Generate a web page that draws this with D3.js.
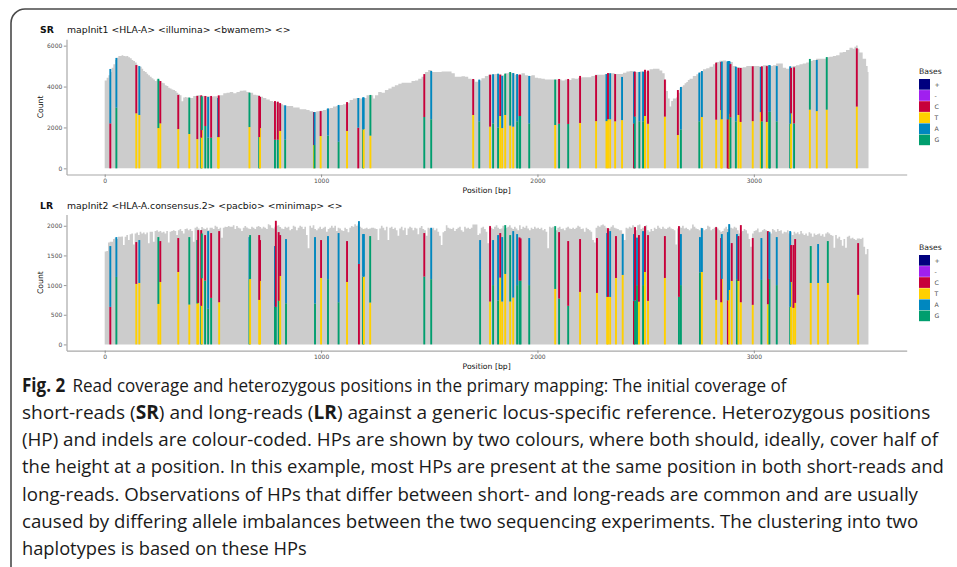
<!DOCTYPE html>
<html>
<head>
<meta charset="utf-8">
<script src="https://cdn.jsdelivr.net/npm/d3@7"></script>
<style>
  body { margin: 0; background: #fff; }
  svg { display: block; }
</style>
</head>
<body>
<svg id="fig" width="957" height="567"></svg>
<script>
// ---------------- data ----------------
const xTicks = [0, 1000, 2000, 3000];
const srYTicks = [0, 2000, 4000, 6000];
const lrYTicks = [0, 500, 1000, 1500, 2000];
const bases = ["+", "-", "C", "T", "A", "G"];

// short-read coverage: bin start position (bp) and read count
const srPos = [0,9,17,25,32,40,48,55,63,71,78,86,94,102,109,117,125,132,140,148,155,163,171,178,186,194,201,209,217,225,232,240,248,255,263,271,278,286,294,301,309,317,325,332,340,348,355,363,371,378,394,409,424,440,455,471,486,501,517,532,548,563,578,594,609,624,640,655,671,686,701,717,732,747,763,778,794,809,824,840,855,871,886,901,917,932,947,963,978,994,1009,1024,1040,1055,1070,1086,1101,1117,1132,1147,1163,1180,1195,1210,1226,1241,1249,1264,1280,1295,1311,1326,1341,1357,1372,1387,1403,1418,1434,1449,1464,1480,1495,1511,1526,1541,1557,1572,1588,1603,1618,1634,1649,1665,1680,1695,1711,1726,1741,1757,1772,1788,1803,1818,1834,1849,1865,1880,1895,1911,1926,1942,1957,1972,1988,2003,2018,2034,2049,2065,2080,2095,2111,2126,2142,2157,2172,2188,2203,2219,2234,2249,2265,2280,2295,2311,2326,2342,2357,2372,2395,2411,2426,2441,2457,2472,2488,2503,2518,2534,2549,2564,2577,2588,2595,2603,2611,2618,2626,2634,2641,2649,2657,2665,2672,2680,2688,2695,2703,2718,2734,2749,2765,2780,2795,2811,2826,2841,2857,2872,2888,2903,2918,2934,2949,2965,2980,2995,3011,3026,3042,3057,3072,3088,3103,3119,3134,3149,3165,3180,3195,3211,3226,3242,3257,3272,3288,3303,3319,3334,3349,3365,3380,3396,3411,3426,3442,3457,3465,3472,3480,3488,3503,3519,3526,3530];
const srCov = [4300,4430,4550,4710,4920,5090,5300,5410,5490,5490,5530,5490,5480,5490,5430,5380,5300,5250,5170,5070,5000,4970,4870,4760,4710,4630,4550,4480,4400,4350,4270,4350,4320,4270,4190,4160,4060,4030,3940,3900,3860,3830,3780,3700,3620,3570,3280,3460,3490,3460,3440,3540,3570,3550,3540,3520,3500,3520,3520,3570,3670,3700,3730,3670,3730,3800,3810,3730,3700,3600,3570,3500,3440,3370,3290,3240,3210,3130,3080,3050,3050,2980,2970,2890,2890,2850,2790,2750,2790,2820,2850,2920,2950,3020,3050,3100,3130,3210,3340,3410,3440,3410,3440,3570,3570,3410,3570,3730,3700,3830,3900,3990,4060,4140,4190,4190,4190,4270,4300,4380,4480,4710,4810,4710,4710,4710,4730,4740,4740,4650,4480,4480,4500,4480,4380,4350,4240,4290,4400,4520,4580,4600,4610,4600,4550,4650,4680,4650,4580,4550,4650,4550,4520,4550,4430,4400,4380,4350,4350,4350,4350,4350,4300,4350,4320,4400,4380,4430,4450,4450,4450,4520,4580,4580,4580,4610,4650,4650,4610,4610,4680,4730,4760,4710,4710,4740,4710,4740,4840,4870,4870,4790,4650,4350,3780,3410,3020,3290,3410,3410,3460,3700,3900,3990,4060,4160,4220,4320,4380,4520,4600,4710,4840,4890,4970,5090,5200,5260,5280,5220,5200,5000,4960,4920,4940,5000,5000,5000,5000,4970,5040,5040,5000,5040,5130,5130,4920,4870,4970,5000,5040,5090,5130,5170,5250,5300,5360,5360,5360,5430,5460,5490,5530,5660,5690,5790,5900,5850,5950,6010,5850,5660,5360,5000,4710,4710];

// short-read heterozygous positions: position, lower base and its count, upper base and total height
const srHpPos = [26,54,146,160,248,257,340,391,428,446,449,465,478,492,524,527,669,714,718,787,800,811,834,967,970,998,1032,1081,1120,1172,1194,1197,1228,1477,1509,1703,1731,1781,1795,1818,1828,1837,1851,1874,1888,1906,1917,1920,1962,2082,2100,2142,2197,2271,2319,2326,2336,2359,2391,2446,2450,2471,2488,2497,2511,2589,2649,2663,2748,2760,2826,2849,2852,2879,2882,2885,2888,2892,2917,2929,2939,2995,3032,3037,3060,3071,3074,3106,3168,3172,3186,3259,3291,3337,3476];
const srHpLoBase = "C G T T T T T T T G T G G G T T T G T G G T G T G T G G T C G T T G G T G T G G T T T T T G G G G T G G T T T T T T T C G G G T T T T G G T T T T C C C T G G T T T T G T G G G G T G T T T T".split(" ");
const srHpLo = [2200,2970,2690,2610,1970,2200,1920,1680,1430,1500,1870,2070,1500,1500,1530,1530,2020,1530,1970,1400,1400,1830,1400,1140,1140,1580,1600,1300,1830,1990,1900,1920,1600,2510,2400,2610,2300,2040,2200,1990,2560,1970,2610,2090,2040,2300,2560,2560,2200,2120,2180,2170,2220,2310,2310,2400,2400,2300,2360,2200,2530,2300,2300,2560,2180,2530,1630,1900,2300,2510,2380,2850,2400,2400,2400,2670,2850,2500,2300,2610,2270,2310,2750,2300,2270,2770,2770,2300,2180,2690,2200,2870,2800,2870,3020];
const srHpHiBase = "A A C A G C C G C C G C A C A C G C C C C C A C A C A A C A A A G C A C A C A A C A G G A A C C A G C C C C A C A C A A C A A C C C C A A A C C A A A A A C A C C C A C C A A A A C C G A G C".split(" ");
const srHpTop = [4860,5400,5050,5000,4380,4270,3590,3460,3540,3570,3520,3540,3490,3540,3440,3570,3700,3540,3490,3290,3260,3190,3080,2750,2750,2800,2930,3100,3240,3440,3470,3470,3590,4610,4760,4370,4340,4580,4600,4630,4580,4520,4630,4710,4660,4610,4580,4580,4520,4340,4370,4370,4520,4560,4610,4660,4650,4610,4470,4730,4730,4710,4730,4820,4780,4340,3830,3980,4680,4760,5170,5200,5220,5230,5230,5250,5230,5100,4970,4910,4910,4990,4960,4990,5000,5040,5040,5000,4990,4910,4940,5350,5300,5440,5870];

// long-read coverage in bins of lrBinWidth bp, starting at position 0
const lrBinWidth = 7.69;
const lrCov = [
  1565,1575,1720,1730,1730,1775,1800,1775,1815,1815,1820,1675,1815,1845,1760,1855,1870,1685,1870,1885,
  1845,1900,1870,1885,1855,1885,1705,1900,1900,1730,1910,1925,1900,1910,1885,1900,1870,1910,1720,1900,
  1910,1925,1910,1845,1925,1945,1910,1870,1945,1955,1925,1945,1910,1730,1965,1985,1955,1925,1980,1955,
  1945,1965,1925,1965,1965,1945,2000,1985,1945,1965,1800,1965,1985,1980,1995,1985,1985,2010,1945,1995,
  1965,1955,1910,1965,1995,1970,1955,1945,1985,1965,1945,1985,1995,1980,1955,1985,1965,1945,2025,2010,
  1965,1955,1985,2000,2010,1980,1955,1945,1985,1965,1985,1925,1945,2000,1985,1925,1965,2000,1985,1945,
  1985,1845,1620,2000,1965,2010,1945,1925,1955,1985,1945,1965,1985,1900,1945,1965,2000,1965,2000,1910,
  1965,1955,1925,1910,1965,1945,1890,1965,1995,1985,2025,2000,2025,1985,
  1965,1945,1955,1965,1945,1955,1965,1965,1955,1945,1760,1955,2000,1965,1925,1985,1760,1965,1985,1945,
  1965,1925,1830,1955,1985,1925,1965,1845,1955,1985,1965,1925,1965,1955,1855,1965,1995,1945,1925,1830,
  1965,1955,1945,1965,1925,1955,1900,1830,1675,1890,1910,2010,1965,1955,1945,1965,1910,1945,1965,1985,
  1925,1900,1985,1955,1965,1945,1965,2020,2020,2020,1845,1870,1965,1985,1945,1900,1705,2000,1965,1945,
  1985,2010,1965,1945,1955,2000,1955,1965,1985,2010,1965,1945,1985,1955,1925,2010,1945,1985,1965,2000,
  1955,1925,1965,1945,1985,1955,1965,1945,1965,1925,1945,1900,1620,1985,1965,1985,1955,1925,1965,1985,
  1945,1955,1925,1965,1985,1955,1945,1965,1945,1965,2000,1985,1945,1955,1900,1965,1945,1925,1900,1760,
  1720,1965,2000,1985,2010,2020,2000,1965,1925,1955,1985,2010,1965,1955,1945,1925,
  1925,1870,1760,1965,1955,1985,1965,2010,1985,1925,2010,2020,1945,1965,1985,2010,1925,1900,1945,1910,
  1965,1945,2000,1965,1945,1985,1955,1945,1965,1985,1955,1945,1925,1685,1955,1985,1965,2000,1955,1965,
  1945,1925,1955,2020,1985,1955,1945,1925,1965,1955,1925,1945,2000,1985,1925,1945,1965,1985,1955,1925,
  1900,1910,1955,1985,1945,2010,1965,1955,1985,1965,1925,1870,1900,1910,1945,1925,1870,1775,1645,1870,
  1910,1925,1955,1890,1900,1925,1945,1925,1900,1910,1870,1945,1925,1900,1945,1910,1925,1870,1900,1890,
  1925,1870,1890,1845,1900,1870,1890,1855,1910,1870,1845,1870,1830,1890,1870,1815,1870,1845,1855,1870,
  1830,1855,1815,1870,1890,1870,1845,1830,1630,1845,1785,1815,1760,1665,1775,1630,1815,1830,1785,1800,
  1775,1760,1785,1785,1775,1800,1645,1520,1610
];

// long-read heterozygous positions
const lrHpPos = [26,54,146,160,248,257,340,391,428,432,446,449,464,478,492,529,669,672,714,718,787,791,804,811,838,972,1000,1032,1081,1120,1175,1194,1198,1227,1477,1509,1735,1781,1795,1818,1828,1837,1851,1874,1888,1906,1917,1922,1962,2082,2100,2142,2197,2275,2322,2326,2336,2363,2394,2446,2451,2460,2469,2488,2497,2511,2589,2654,2663,2751,2760,2826,2849,2852,2880,2886,2898,2922,2929,2940,2995,3035,3065,3072,3106,3168,3172,3183,3191,3263,3297,3342,3482];
const lrHpLoBase = "C G T T T T T T T T G T G G G T G T T T G G G T G G T G G T C G T T G G G T G G T T T T T G G G G T G G T T T T T T T C G G T G T T T G G G T T T T C T T G T T T G T G G G T T T T T T T".split(" ");
const lrHpLo = [633,1137,1020,1036,683,1053,1221,672,690,700,650,1115,1076,600,784,711,1100,1104,750,1070,633,633,734,1154,694,690,1120,1100,711,1053,1356,1143,1143,706,1143,1100,1255,723,1000,740,1126,723,1188,723,790,1000,1076,1076,1000,935,773,650,885,868,801,801,800,1120,1171,734,740,1000,720,1000,1221,734,1120,801,1000,1215,1221,750,711,1104,745,918,1070,1100,1070,711,667,1087,678,1104,1000,633,1053,616,700,1036,1036,1036,835];
const lrHpHiBase = "A A C A G C C G G C C G C A C C A G C C A C C C A A C A A C A A A G C A A C A A C A G G A A C C A G C C C C A C A C A A C A C A C C C C A A A C C A A A C A C C C A C A A A C C C G A G C".split(" ");
const lrHpTop = [1658,1809,1725,1759,1809,1742,1793,1809,1760,1927,1927,1870,1843,1910,1877,1910,1809,1843,1843,1759,1658,2084,1893,1843,1776,1809,1759,1826,1877,1742,2078,1860,1860,1826,1877,1966,1759,1994,1759,1843,1877,1809,2011,1843,1910,1860,1804,1787,1793,1994,1893,1742,1776,1793,1877,1960,1910,1826,1860,1860,1977,1800,1843,1910,1994,1843,1826,1994,1860,1809,1960,1977,1793,1860,1893,2028,1708,1860,1826,2011,1793,1793,1910,1893,1809,1910,1675,1675,1776,1658,1692,1742,1708];

const captionLines = [
  [["Fig. 2", true], ["Read coverage and heterozygous positions in the primary mapping: The initial coverage of", false]],
  [["short-reads (", false], ["SR", true], [") and long-reads (", false], ["LR", true], [") against a generic locus-specific reference. Heterozygous positions", false]],
  [["(HP) and indels are colour-coded. HPs are shown by two colours, where both should, ideally, cover half of", false]],
  [["the height at a position. In this example, most HPs are present at the same position in both short-reads and", false]],
  [["long-reads. Observations of HPs that differ between short- and long-reads are common and are usually", false]],
  [["caused by differing allele imbalances between the two sequencing experiments. The clustering into two", false]],
  [["haplotypes is based on these HPs", false]]
];

// ---------------- style ----------------
const FONT = "'DejaVu Sans', Verdana, sans-serif";
const CAP_FONT = "'Open Sans', 'Noto Sans', sans-serif";
const palette = ["#00007F", "#A020EF", "#C7003A", "#FFD000", "#0087BF", "#009E6E"];
const GREY_FILL = "#CCCCCC";
const AXIS_COL = "#A8A8A8";
const TICK_TXT = "#4D4D4D";
const colour = d3.scaleOrdinal(bases, palette);

const svg = d3.select("#fig");

// figure frame with rounded top-left corner
svg.append("path")
  .attr("d", "M11,567 V23 A14,14 0 0 1 25,9 H957")
  .attr("fill", "none").attr("stroke", "#4a4a4a").attr("stroke-width", 1.6);

// ggplot-style 5% expansion of a data extent
function expand(ext) {
  const pad = (ext[1] - ext[0]) * 0.05;
  return [ext[0] - pad, ext[1] + pad];
}
const X_LEFT = 66.5, X_RIGHT = 906.7;
const fmt = d3.format("d");

function panel(opt) {
  const g = svg.append("g");
  const x = d3.scaleLinear().domain(expand(opt.xExtent)).range([X_LEFT, X_RIGHT]);
  const yMax = d3.max([d3.max(opt.cov, d => d[1]), d3.max(opt.hpTop)]);
  const y = d3.scaleLinear().domain(expand([0, yMax])).range([opt.yBottom, opt.yTop]);

  // coverage profile
  const area = d3.area()
    .curve(d3.curveStepAfter)
    .x(d => x(d[0]))
    .y0(y(0))
    .y1(d => y(d[1]));
  g.append("path").datum(opt.cov).attr("d", area).attr("fill", GREY_FILL);

  // heterozygous positions: two stacked bases per position
  const hp = opt.hpPos.map((p, i) => ({
    pos: p, loBase: opt.hpLoBase[i], lo: opt.hpLo[i], hiBase: opt.hpHiBase[i], top: opt.hpTop[i]
  }));
  const bw = 1.9;
  const hg = g.append("g");
  hg.selectAll("rect.lo").data(hp).join("rect")
    .attr("class", "lo")
    .attr("x", d => x(d.pos) - bw / 2).attr("width", bw)
    .attr("y", d => y(d.lo)).attr("height", d => y(0) - y(d.lo))
    .attr("fill", d => colour(d.loBase));
  hg.selectAll("rect.hi").data(hp).join("rect")
    .attr("class", "hi")
    .attr("x", d => x(d.pos) - bw / 2).attr("width", bw)
    .attr("y", d => y(d.top)).attr("height", d => y(d.lo) - y(d.top))
    .attr("fill", d => colour(d.hiBase));

  // axes
  const yAxis = g.append("g").attr("transform", `translate(${X_LEFT},0)`)
    .call(d3.axisLeft(y).tickValues(opt.yTicks).tickFormat(fmt)
      .tickSize(2.7).tickSizeOuter(0).tickPadding(1.5));
  const xAxis = g.append("g").attr("transform", `translate(0,${opt.yBottom})`)
    .call(d3.axisBottom(x).tickValues(xTicks).tickFormat(fmt)
      .tickSize(2.7).tickSizeOuter(0).tickPadding(1.8));
  [yAxis, xAxis].forEach(a => {
    a.select(".domain").attr("stroke", AXIS_COL).attr("stroke-width", 1.2);
    a.selectAll(".tick line").attr("stroke", "#8a8a8a").attr("stroke-width", 0.9);
    a.selectAll(".tick text").attr("fill", TICK_TXT).attr("font-family", FONT).attr("font-size", 6);
  });

  // titles
  g.append("text").attr("x", 40).attr("y", opt.titleY)
    .attr("font-family", FONT).attr("font-size", 9.3).attr("font-weight", "bold").attr("fill", "#111")
    .text(opt.tag);
  g.append("text").attr("x", 67).attr("y", opt.titleY)
    .attr("font-family", FONT).attr("font-size", 9.3).attr("fill", "#111")
    .text(opt.title);
  g.append("text")
    .attr("transform", `translate(43,${(opt.yBottom + opt.yTop) / 2}) rotate(-90)`)
    .attr("text-anchor", "middle")
    .attr("font-family", FONT).attr("font-size", 7.7).attr("fill", "#111")
    .text("Count");
  g.append("text").attr("x", (X_LEFT + X_RIGHT) / 2).attr("y", opt.yBottom + 18)
    .attr("text-anchor", "middle")
    .attr("font-family", FONT).attr("font-size", 7.7).attr("fill", "#111")
    .text("Position [bp]");

  // legend
  const lg = g.append("g").attr("transform", `translate(919,${opt.legendTop})`);
  lg.append("text").attr("x", 0).attr("y", -5)
    .attr("font-family", FONT).attr("font-size", 7.7).attr("fill", "#222").text("Bases");
  const key = 11.1;
  const items = lg.selectAll("g.item").data(bases).join("g")
    .attr("class", "item").attr("transform", (d, i) => `translate(0,${i * key})`);
  items.append("rect").attr("width", 11).attr("height", key - 0.4)
    .attr("fill", d => colour(d));
  items.append("text").attr("x", 15.5).attr("y", key / 2 + 2.2)
    .attr("font-family", FONT).attr("font-size", 6.2).attr("fill", TICK_TXT)
    .text(d => d);
}

const srCovPts = srPos.map((p, i) => [p, srCov[i]]);
const lrCovPts = lrCov.map((c, i) => [i * lrBinWidth, c]);
lrCovPts.push([lrCov.length * lrBinWidth, lrCov[lrCov.length - 1]]);
const xExtent = [0, d3.max([srPos[srPos.length - 1], lrCov.length * lrBinWidth])];

panel({
  tag: "SR", title: "mapInit1 <HLA-A> <illumina> <bwamem> <>",
  titleY: 32.5, yTop: 39.3, yBottom: 174.5, legendTop: 79,
  xExtent: xExtent, cov: srCovPts, yTicks: srYTicks,
  hpPos: srHpPos, hpLoBase: srHpLoBase, hpLo: srHpLo, hpHiBase: srHpHiBase, hpTop: srHpTop
});
panel({
  tag: "LR", title: "mapInit2 <HLA-A.consensus.2> <pacbio> <minimap> <>",
  titleY: 208.8, yTop: 214.6, yBottom: 350.6, legendTop: 255,
  xExtent: xExtent, cov: lrCovPts, yTicks: lrYTicks,
  hpPos: lrHpPos, hpLoBase: lrHpLoBase, hpLo: lrHpLo, hpHiBase: lrHpHiBase, hpTop: lrHpTop
});

// caption, each line fitted to its set width
const capWidths = [758, 909, 917, 922, 897, 897, 285];
const capTop = 391.5, capStep = 27.3;
captionLines.forEach((line, li) => {
  const g = svg.append("g");
  const t = g.append("text")
    .attr("font-family", CAP_FONT).attr("font-size", 19).attr("fill", "#1a1a1a");
  line.forEach((seg, si) => {
    const ts = t.append("tspan").text(seg[0]);
    if (seg[1]) ts.attr("font-weight", "bold");
    if (li === 0 && si === 1) ts.attr("dx", 8);
  });
  const natural = t.node().getComputedTextLength();
  const sx = capWidths[li] / natural;
  g.attr("transform", `translate(22,${capTop + li * capStep}) scale(${sx},1)`);
});
</script>
</body>
</html>
